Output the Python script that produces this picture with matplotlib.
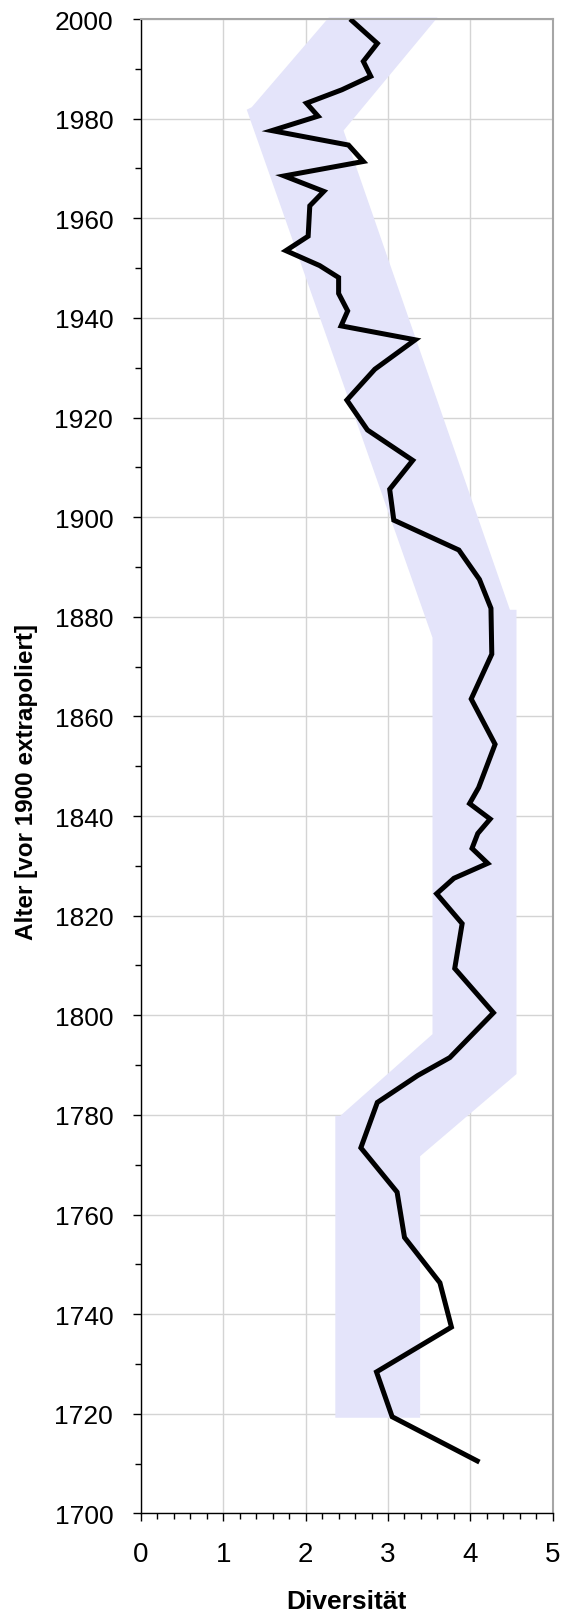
import matplotlib
matplotlib.use('Agg')
import matplotlib.pyplot as plt
from matplotlib.ticker import MultipleLocator

# Schrift wie im Original (Arial-kompatibel)
plt.rcParams['font.family'] = ['Liberation Sans', 'DejaVu Sans']

# Diversitaet je Alter (Jahr)
diversity = [2.54, 2.87, 2.70, 2.79, 2.44, 2.01, 2.15, 1.59, 2.52, 2.70,
             1.74, 2.22, 2.05, 2.03, 1.76, 2.17, 2.40, 2.40, 2.51, 2.43,
             3.33, 2.84, 2.50, 2.75, 3.30, 3.02, 3.07, 3.86, 4.11, 4.25,
             4.26, 4.01, 4.30, 4.10, 3.99, 4.24, 4.09, 4.02, 4.21, 3.80,
             3.59, 3.90, 3.81, 4.28, 3.75, 3.36, 2.87, 2.67, 3.11, 3.20,
             3.63, 3.77, 2.86, 3.05, 4.11]
age = [2000.0, 1995.1, 1991.5, 1988.5, 1985.8, 1983.1, 1980.5, 1977.6, 1974.7, 1971.4,
       1968.5, 1965.4, 1962.5, 1956.4, 1953.5, 1950.5, 1948.1, 1944.9, 1941.4, 1938.4,
       1935.6, 1929.7, 1923.5, 1917.5, 1911.4, 1905.6, 1899.4, 1893.4, 1887.5, 1881.7,
       1872.5, 1863.5, 1854.4, 1845.7, 1842.5, 1839.4, 1836.5, 1833.5, 1830.5, 1827.5,
       1824.4, 1818.4, 1809.4, 1800.5, 1791.5, 1787.9, 1782.5, 1773.4, 1764.5, 1755.4,
       1746.3, 1737.4, 1728.4, 1719.4, 1710.3]

# Hintergrundband (Trend), Eckpunkte des Polygons
band_x = [3.60, 2.46, 4.48, 4.56, 4.56, 3.39, 3.39,
          2.36, 2.36, 2.42, 3.54, 3.54, 1.284, 1.345, 2.28]
band_y = [2000.3, 1977.6, 1881.4, 1881.4, 1788.2, 1771.7, 1719.2,
          1719.2, 1779.8, 1779.8, 1796.2, 1875.8, 1981.8, 1982.3, 2000.3]

x_ticks = [0, 1, 2, 3, 4, 5]
y_ticks = [1700, 1720, 1740, 1760, 1780, 1800, 1820, 1840, 1860, 1880,
           1900, 1920, 1940, 1960, 1980, 2000]


def plot_chart():
    fig = plt.figure(figsize=(5.71, 16.15), dpi=100)
    ax = fig.add_axes([0.2469, 0.0623, 0.7211, 0.9253])

    # Band und Kurve
    ax.fill(band_x, band_y, color='#E4E4FA', linewidth=0, zorder=1, clip_on=False)
    ax.plot(diversity, age, color='black', linewidth=3.6,
            solid_joinstyle='miter', solid_capstyle='butt', zorder=3)

    ax.set_xlim(0, 5)
    ax.set_ylim(1700, 2000)
    ax.set_xticks(x_ticks)
    ax.set_yticks(y_ticks)
    ax.xaxis.set_minor_locator(MultipleLocator(0.2))
    ax.yaxis.set_minor_locator(MultipleLocator(10))

    ax.grid(True, which='major', color='#D4D4D4', linewidth=1.0, zorder=0)
    ax.set_axisbelow(True)

    # Achsenlinien
    for side in ['left', 'bottom']:
        ax.spines[side].set_color('black')
        ax.spines[side].set_linewidth(1.0)
    for side in ['top', 'right']:
        ax.spines[side].set_color('#A6A6A6')
        ax.spines[side].set_linewidth(1.5)

    ax.tick_params(axis='both', which='major', direction='out', length=6,
                   width=1.0, color='black')
    ax.tick_params(axis='both', which='minor', direction='out', length=4,
                   width=1.0, color='black')
    ax.tick_params(axis='y', which='major', labelsize=19, pad=14)
    ax.tick_params(axis='x', which='major', labelsize=20, pad=14)

    ax.set_xlabel('Diversität', fontsize=19, fontweight='bold')
    ax.set_ylabel('Alter [vor 1900 extrapoliert]', fontsize=17.5, fontweight='bold')
    ax.xaxis.set_label_coords(0.5, -0.0587)
    ax.xaxis.label.set_va('center')
    ax.yaxis.set_label_coords(-0.279, 0.49)
    ax.yaxis.label.set_va('center')

    fig.savefig('out.png', dpi=100)


def main():
    plot_chart()


if __name__ == '__main__':
    main()
